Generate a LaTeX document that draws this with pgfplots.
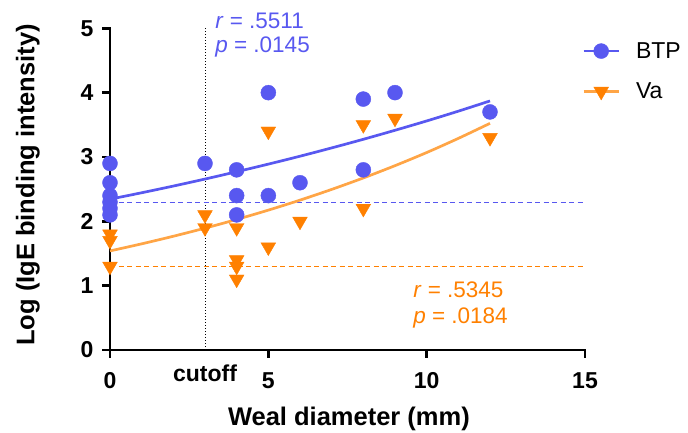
\documentclass[border=0pt]{standalone}
\usepackage{pgfplots}
\pgfplotsset{compat=1.18}
\usepackage{fontspec}
\setmainfont{Liberation Sans}
\definecolor{cblue}{RGB}{88,88,240}
\definecolor{corange}{RGB}{255,128,0}
\definecolor{corangel}{RGB}{255,165,70}
\begin{document}
\begin{tikzpicture}
\path[use as bounding box] (0pt,0pt) rectangle (688pt,433pt);
\begin{axis}[
  at={(110pt,83pt)}, anchor=south west,
  scale only axis, width=475pt, height=321.7pt,
  xmin=0, xmax=15, ymin=0, ymax=5,
  clip=false,
  axis lines*=left,
  axis line style={line width=2.6pt, black, line cap=rect},
  every tick/.style={line width=2.6pt, black},
  tick align=outside, major tick length=8pt,
  xtick={0,5,10,15}, ytick={0,1,2,3,4,5},
  extra x ticks={3}, extra x tick labels={cutoff},
  extra x tick style={major tick length=0pt},
  /pgf/number format/assume math mode=true,
  tick label style={font=\bfseries\fontsize{23}{27}\selectfont},
  xticklabel style={yshift=-11pt},
  yticklabel style={xshift=-5pt},
  xlabel={Weal diameter (mm)},
  ylabel={Log (IgE binding intensity)},
  label style={font=\bfseries\fontsize{25.5}{30}\selectfont},
  xlabel style={at={(axis description cs:0.503,-0.214)}, anchor=center},
  ylabel style={at={(axis description cs:-0.173,0.513)}, anchor=center},
  legend style={draw=none, fill=none, at={(rel axis cs:0.994,0.963)}, anchor=north west,
    font=\fontsize{23}{27}\selectfont, row sep=19pt, column sep=14pt, inner sep=0pt,
    nodes={inner sep=2pt}},
  legend cell align=left,
]
% dotted cutoff line
\addplot[black, dotted, line width=1pt, forget plot] coordinates {(3,0) (3,5)};
% dashed thresholds
\addplot[cblue, line width=1pt, dash pattern=on 5pt off 3.5pt, forget plot] coordinates {(0,2.3) (15,2.3)};
\addplot[corange, line width=1pt, dash pattern=on 5pt off 3.5pt, forget plot] coordinates {(0,1.3) (15,1.3)};
% fitted curves
\addplot[cblue, line width=2.7pt, smooth, forget plot] coordinates {
(0,2.344) (1,2.444) (2,2.548) (3,2.657) (4,2.771) (5,2.889) (6,3.012)
(7,3.141) (8,3.275) (9,3.415) (10,3.560) (11,3.712) (12,3.871)};
\addplot[corangel, line width=2.7pt, smooth, forget plot] coordinates {
(0,1.540) (1,1.650) (2,1.768) (3,1.894) (4,2.029) (5,2.174) (6,2.329)
(7,2.496) (8,2.674) (9,2.865) (10,3.069) (11,3.289) (12,3.523)};
% BTP
\addplot[only marks, mark=*, mark size=7.5pt, color=cblue, mark options={draw=none, fill=cblue},
  legend image code/.code={
    \draw[mark=none, line width=2.7pt, cblue] (0pt,0pt) -- (35pt,0pt);
    \draw[only marks] plot coordinates {(17.5pt,0pt)};}]
coordinates {
(0,2.9) (0,2.6) (0,2.4) (0,2.3) (0,2.2) (0,2.1)
(3,2.9)
(4,2.8) (4,2.4) (4,2.1)
(5,4.0) (5,2.4)
(6,2.6)
(8,3.9) (8,2.8)
(9,4.0)
(12,3.7)};
\addlegendentry{BTP}
% Va
\addplot[only marks, mark=triangle*, mark size=8.5pt, color=corange, mark options={draw=none, fill=corange, rotate=180},
  legend image code/.code={
    \draw[mark=none, line width=2.7pt, corangel] (0pt,0pt) -- (35pt,0pt);
    \draw[only marks] plot coordinates {(17.5pt,0pt)};}]
coordinates {
(0,1.8) (0,1.7) (0,1.3)
(3,2.1) (3,1.9)
(4,1.9) (4,1.4) (4,1.3) (4,1.1)
(5,3.4) (5,1.6)
(6,2.0)
(8,3.5) (8,2.2)
(9,3.6)
(12,3.3)};
\addlegendentry{Va}
% annotations
\node[anchor=west, text=cblue, font=\fontsize{22.5}{26}\selectfont, inner sep=0pt] at (axis cs:3.32,5.12) {\textit{r} = .5511};
\node[anchor=west, text=cblue, font=\fontsize{22.5}{26}\selectfont, inner sep=0pt] at (axis cs:3.32,4.71) {\textit{p} = .0145};
\node[anchor=west, text=corange, font=\fontsize{22.5}{26}\selectfont, inner sep=0pt] at (axis cs:9.57,0.93) {\textit{r} = .5345};
\node[anchor=west, text=corange, font=\fontsize{22.5}{26}\selectfont, inner sep=0pt] at (axis cs:9.57,0.50) {\textit{p} = .0184};
\end{axis}
\end{tikzpicture}
\end{document}
